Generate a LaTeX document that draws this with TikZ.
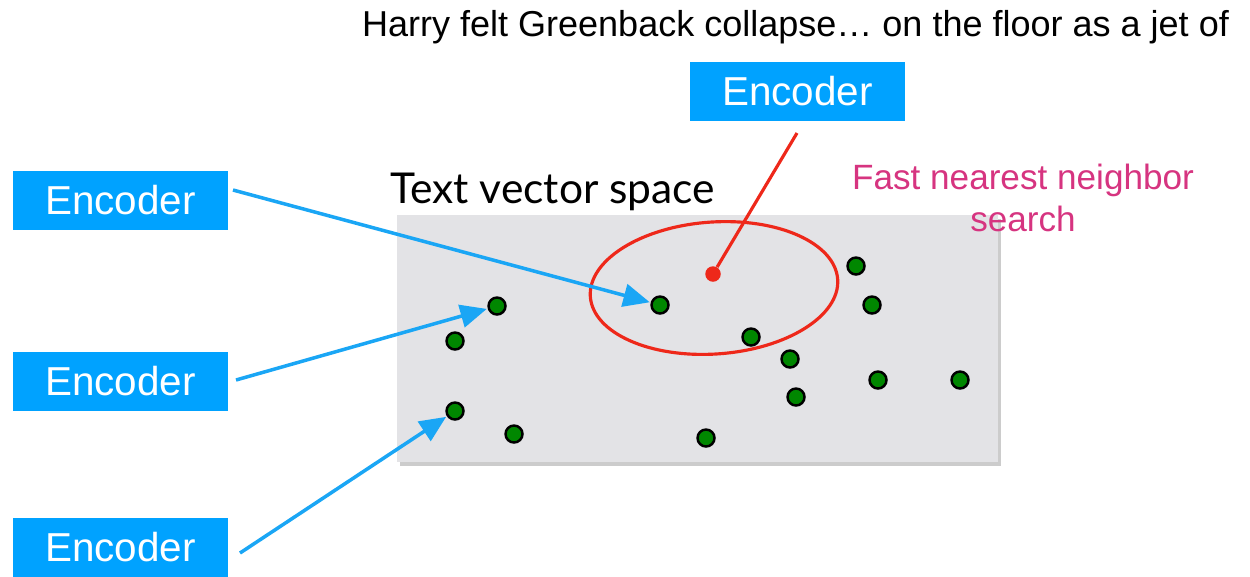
\documentclass[tikz,border=0pt]{standalone}
\usepackage{fontspec}
\setmainfont{Liberation Sans}
\newfontfamily\gillfont{Lato}
\usetikzlibrary{arrows.meta,shadows}
\definecolor{encblue}{RGB}{0,162,255}
\definecolor{arrblue}{RGB}{26,166,245}
\definecolor{spacegray}{RGB}{227,227,230}
\definecolor{dotgreen}{RGB}{0,135,0}
\definecolor{redline}{RGB}{238,40,26}
\definecolor{pinktext}{RGB}{214,52,128}
\tikzset{
  encbox/.style={fill=encblue, text=white, minimum width=4.3cm, minimum height=1.18cm, inner sep=0pt, font=\fontsize{23}{27}\selectfont},
  gdot/.style={circle, fill=dotgreen, draw=black, line width=1.4pt, minimum size=0.34cm, inner sep=0pt},
  rdot/.style={circle, fill=redline, minimum size=0.31cm, inner sep=0pt},
  bluearrow/.style={draw=arrblue, line width=2pt, -{Triangle[length=15pt,width=13pt]}, shorten >=0.5pt},
  redconn/.style={draw=redline, line width=1.8pt},
}
\begin{document}
\begin{tikzpicture}[x=0.02cm,y=-0.02cm]
\useasboundingbox (0,0) rectangle (1250,576);
% vector space
\node[fill=spacegray, minimum width=12.02cm, minimum height=4.94cm, inner sep=0pt,
  drop shadow={shadow xshift=1.5pt, shadow yshift=-2.5pt, opacity=0.4, fill=black!50}] (space) at (697.5,338.5) {};
\node[anchor=base west, inner sep=0pt, font=\gillfont\fontsize{24.2}{29}\selectfont] (spacelbl) at (390,203) {Text vector space};
% top text
\node[anchor=base, inner sep=0pt, font=\fontsize{20.5}{24}\selectfont] (sentence) at (795.5,36) {Harry felt Greenback collapse… on the floor as a jet of};
% encoders
\node[encbox] (etop) at (797.5,91) {Encoder};
\node[encbox] (e1) at (120.5,200) {Encoder};
\node[encbox] (e2) at (120.5,381) {Encoder};
\node[encbox] (e3) at (120.5,547) {Encoder};
% search label
\node[align=center, inner sep=0pt, text=pinktext, font=\fontsize{20}{24}\selectfont] (searchlbl) at (1023,198) {Fast nearest neighbor\\search};
% ellipse
\draw[redline, line width=1.8pt, rotate around={4:(714,288)}] (714,288) ellipse [x radius=2.48cm, y radius=1.32cm];
% dots
\node[gdot] (g1) at (497,306) {};
\node[gdot] (g2) at (455,341) {};
\node[gdot] (g3) at (660,305) {};
\node[gdot] (g4) at (751,337) {};
\node[gdot] (g5) at (856,266) {};
\node[gdot] (g6) at (872,305) {};
\node[gdot] (g7) at (790,359) {};
\node[gdot] (g8) at (878,380) {};
\node[gdot] (g9) at (960,380) {};
\node[gdot] (g10) at (796,397) {};
\node[gdot] (g11) at (455,411) {};
\node[gdot] (g12) at (514,434) {};
\node[gdot] (g13) at (706,438) {};
\node[rdot] (query) at (713,274) {};
% connectors
\coordinate (s1) at (233,190);
\coordinate (s2) at (236,380);
\coordinate (s3) at (240,553);
\coordinate (st) at (797,133);
\draw[bluearrow] (s1) -- (g3);
\draw[bluearrow] (s2) -- (g1);
\draw[bluearrow] (s3) -- (g11);
\draw[redconn] (st) -- (query);
\end{tikzpicture}
\end{document}
